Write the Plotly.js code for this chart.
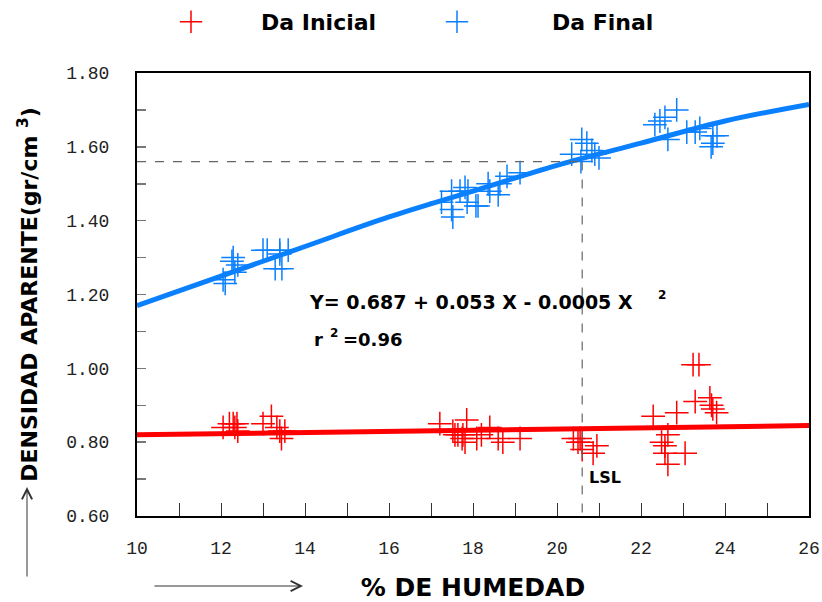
<!DOCTYPE html>
<html>
<head>
<meta charset="utf-8">
<script src="https://cdn.plot.ly/plotly-3.0.1.min.js"></script>
<style>html,body{margin:0;padding:0;background:#fff;}#chart{width:822px;height:602px;}</style>
</head>
<body>
<div id="chart"></div>
<script>
// Da Inicial (red) measurements
const inicialX = [12.05,12.20,12.29,12.38,12.33,12.40,13.00,13.20,13.33,13.40,13.44,13.52,
  17.21,17.85,17.52,17.57,17.64,17.74,17.81,17.76,18.09,18.20,18.40,18.60,18.71,19.12,
  20.39,20.50,20.55,20.60,20.60,20.95,20.86,22.29,22.64,22.49,22.57,22.57,22.64,23.05,22.85,23.29,23.24,23.38,23.64,23.68,23.71,23.80];
const inicialY = [0.84,0.85,0.85,0.85,0.84,0.83,0.85,0.87,0.84,0.83,0.81,0.83,
  0.85,0.86,0.83,0.82,0.82,0.81,0.80,0.82,0.81,0.82,0.84,0.81,0.80,0.81,
  0.81,0.80,0.81,0.80,0.78,0.79,0.77,0.87,0.82,0.80,0.79,0.77,0.74,0.77,0.88,0.91,1.01,1.01,0.92,0.90,0.89,0.88];
// Da Final (blue) measurements
const finalX = [12.05,12.10,12.29,12.26,12.40,12.33,13.00,13.10,13.40,13.60,13.40,13.29,13.45,
  17.25,17.49,17.49,17.52,17.69,17.81,17.88,17.86,18.07,18.12,18.36,18.40,18.64,18.60,18.81,19.12,
  20.35,20.59,20.71,20.83,20.57,20.90,21.00,22.33,22.45,22.57,22.85,22.64,23.09,23.29,23.40,23.71,23.81,23.71,23.67];
const finalY = [1.24,1.23,1.30,1.29,1.28,1.26,1.32,1.32,1.32,1.32,1.31,1.27,1.27,
  1.45,1.48,1.43,1.41,1.48,1.49,1.48,1.45,1.44,1.44,1.50,1.48,1.50,1.47,1.52,1.53,
  1.58,1.62,1.61,1.59,1.56,1.58,1.57,1.66,1.67,1.68,1.70,1.62,1.64,1.64,1.65,1.63,1.63,1.61,1.60];
// fitted curves
const fitFinalX = [10,12,14,16,18,20,22,24,26];
const fitFinalY = [1.17,1.25,1.33,1.41,1.48,1.55,1.61,1.67,1.715];
const fitInicialX = [10,26];
const fitInicialY = [0.82,0.845];
// reference (LSL) point
const lslX = 20.6;
const lslY = 1.56;
const xTicks = [10,12,14,16,18,20,22,24,26];
const yTicks = [0.6,0.8,1.0,1.2,1.4,1.6,1.8];

const RED = '#ff0000';
const BLUE = '#0a80ff';
const bold = '"DejaVu Sans", "Liberation Sans", Arial, sans-serif';
const mono = '"Liberation Mono", "Courier New", monospace';
const legFont = {family: bold, size: 22, color: '#000', weight: 'bold'};

const traces = [
  {x: inicialX, y: inicialY, type: 'scatter', mode: 'markers', name: 'Da Inicial', legend: 'legend',
   marker: {symbol: 'cross-thin-open', size: 17, color: RED, line: {color: RED, width: 1.5}}},
  {x: finalX, y: finalY, type: 'scatter', mode: 'markers', name: 'Da Final', legend: 'legend2',
   marker: {symbol: 'cross-thin-open', size: 17, color: BLUE, line: {color: BLUE, width: 1.5}}},
  {x: fitInicialX, y: fitInicialY, type: 'scatter', mode: 'lines', showlegend: false,
   line: {color: RED, width: 5}, hoverinfo: 'skip'},
  {x: fitFinalX, y: fitFinalY, type: 'scatter', mode: 'lines', showlegend: false,
   line: {color: BLUE, width: 5, shape: 'spline'}, hoverinfo: 'skip'}
];

const T = (x, y, text, size) => ({xref: 'x', yref: 'y', x: x, y: y, xanchor: 'left', yanchor: 'middle',
  showarrow: false, text: text, font: {family: bold, size: size, color: '#000', weight: 'bold'}});

const layout = {
  width: 822, height: 602,
  margin: {l: 137, r: 13, t: 73, b: 86},
  paper_bgcolor: '#fff', plot_bgcolor: '#fff',
  showlegend: true,
  legend: {orientation: 'h', xref: 'container', yref: 'container', x: 121 / 822, y: 1 - 22 / 602,
    xanchor: 'left', yanchor: 'middle', font: legFont, itemwidth: 130, bgcolor: 'rgba(0,0,0,0)'},
  legend2: {orientation: 'h', xref: 'container', yref: 'container', x: 362 / 822, y: 1 - 22 / 602,
    xanchor: 'left', yanchor: 'middle', font: legFont, itemwidth: 180, bgcolor: 'rgba(0,0,0,0)'},
  xaxis: {range: [10, 26], tickvals: xTicks, ticktext: xTicks.map(String),
    ticks: 'inside', ticklen: 13, tickcolor: '#333', tickwidth: 1,
    minor: {dtick: 1, tick0: 10, ticks: 'inside', ticklen: 13, tickcolor: '#333', showgrid: false},
    showgrid: false, zeroline: false, showline: true, mirror: true, linecolor: '#000', linewidth: 2,
    tickfont: {family: mono, size: 18, color: '#222'}, ticklabelstandoff: 14,
    title: {text: '% DE HUMEDAD', font: {family: bold, size: 25, color: '#000', weight: 'bold'}, standoff: 25}},
  yaxis: {range: [0.6, 1.8], tickvals: yTicks, tickformat: '.2f',
    ticks: 'inside', ticklen: 9, tickcolor: '#777', tickwidth: 1.5,
    minor: {dtick: 0.1, tick0: 0.6, ticks: 'inside', ticklen: 9, tickcolor: '#777', showgrid: false},
    showgrid: false, zeroline: false, showline: true, mirror: true, linecolor: '#000', linewidth: 2,
    tickfont: {family: mono, size: 18, color: '#222'}, ticklabelstandoff: 22,
    title: {text: 'DENSIDAD APARENTE(gr/cm <sup>3</sup>)', font: {family: bold, size: 22, color: '#000', weight: 'bold'}, standoff: 22}},
  shapes: [
    {type: 'line', xref: 'x', yref: 'y', x0: 10, x1: lslX, y0: lslY, y1: lslY,
     line: {color: '#666', width: 1.2, dash: 'dash'}},
    {type: 'line', xref: 'x', yref: 'y', x0: lslX, x1: lslX, y0: lslY, y1: 0.6,
     line: {color: '#666', width: 1.2, dash: 'dash'}}
  ],
  annotations: [
    T(14.05, 1.181, 'Y= 0.687 + 0.053 X - 0.0005 X', 19),
    T(22.35, 1.198, '2', 12),
    T(14.17, 1.078, 'r', 18),
    T(14.55, 1.097, '2', 12),
    T(14.85, 1.078, '=0.96', 18),
    T(20.72, 0.703, 'LSL', 16),
    {xref: 'paper', yref: 'paper', x: (27 - 137) / 672, y: (516 - 487) / 443, text: '',
     showarrow: true, ax: 0, ay: 91, arrowhead: 5, arrowsize: 2, arrowwidth: 1, arrowcolor: '#333'},
    {xref: 'paper', yref: 'paper', x: (303 - 137) / 672, y: (516 - 586) / 443, text: '',
     showarrow: true, ax: -150, ay: 0, arrowhead: 5, arrowsize: 2, arrowwidth: 1, arrowcolor: '#333'}
  ]
};

Plotly.newPlot('chart', traces, layout, {displayModeBar: false, staticPlot: true});
</script>
</body>
</html>
